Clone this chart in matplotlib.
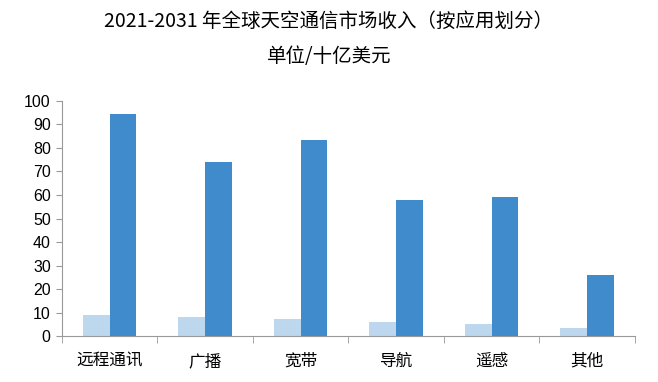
import matplotlib.pyplot as plt
import numpy as np

plt.rcParams['font.family'] = ['Noto Sans CJK SC', 'DejaVu Sans']

categories = ["远程通讯", "广播", "宽带", "导航", "遥感", "其他"]
revenue_2021 = [9.2, 8.0, 7.4, 6.0, 5.2, 3.4]
revenue_2031 = [94.5, 73.8, 83.3, 57.7, 59.2, 26.2]

fig = plt.figure(figsize=(6.58, 3.82), dpi=100)
ax = fig.add_axes([0.094, 0.12, 0.871, 0.616])

x = np.arange(len(categories))
w = 0.28
ax.bar(x - w / 2, revenue_2021, w, color='#BDD7EE', edgecolor='none')
ax.bar(x + w / 2, revenue_2031, w, color='#3F8BCB', edgecolor='none')

ax.set_xlim(-0.5, len(categories) - 0.5)
ax.set_ylim(0, 100)
ax.set_yticks(range(0, 101, 10))
ax.set_yticklabels([str(v) for v in range(0, 101, 10)], family='Liberation Sans', fontsize=11.5)
ax.set_xticks(x)
ax.set_xticklabels(categories, fontsize=12)
ax.set_xticks(np.arange(-0.5, len(categories)), minor=True)
ax.tick_params(axis='x', which='major', length=0, pad=12)
ax.tick_params(axis='x', which='minor', length=5, color='#999999', direction='out')
ax.tick_params(axis='y', length=4, color='#999999', pad=4)

for s in ['top', 'right']:
    ax.spines[s].set_visible(False)
for s in ['left', 'bottom']:
    ax.spines[s].set_color('#999999')

fig.text(0.5, 0.945, "2021-2031 年全球天空通信市场收入（按应用划分）", ha='center', va='center', fontsize=14)
fig.text(0.5, 0.853, "单位/十亿美元", ha='center', va='center', fontsize=14)

fig.savefig('out.png', dpi=100)
